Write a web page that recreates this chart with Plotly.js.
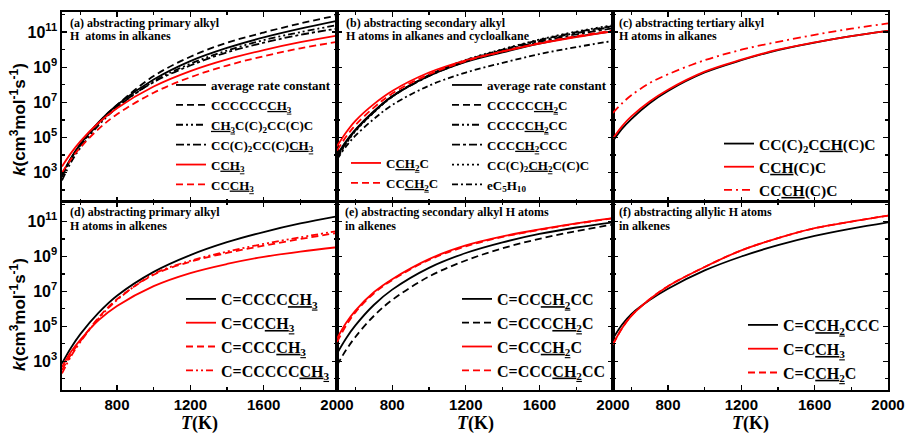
<!DOCTYPE html>
<html><head><meta charset="utf-8">
<script src="https://cdn.plot.ly/plotly-3.0.1.min.js"></script>
<style>html,body{margin:0;padding:0;background:#fff}#chart{width:906px;height:435px}</style>
</head><body><div id="chart"></div>
<script>
// Temperatures (K) at which values were read
const T = [500,550,600,700,800,1000,1200,1400,1600,1800,2000];
// log10 k values
// (a) primary alkyl H in alkanes
const a_avg   = [2.9,3.85,4.62,5.88,6.85,8.3,9.35,10.1,10.7,11.2,11.65];
const a_c7    = [2.75,3.8,4.6,5.85,6.85,8.5,9.6,10.4,10.98,11.5,11.95];
const a_ch3c2 = [2.55,3.6,4.4,5.7,6.7,8.2,9.2,9.95,10.55,11.0,11.4];
const a_cc2ch3= [2.8,3.8,4.55,5.8,6.75,8.15,9.1,9.85,10.4,10.85,11.2];
const a_cch3  = [3.35,4.12,4.78,5.84,6.67,7.9,8.78,9.45,9.98,10.43,10.8];
const a_ccch3 = [3.0,3.77,4.43,5.49,6.32,7.55,8.43,9.1,9.63,10.08,10.45];
// (b) secondary alkyl H in alkanes and cycloalkane
const b_avg   = [4.0,4.8,5.45,6.5,7.35,8.5,9.3,9.85,10.35,10.75,11.05];
const b_c6    = [3.85,4.7,5.4,6.45,7.35,8.55,9.4,10.0,10.55,11.0,11.35];
const b_c5    = [3.9,4.72,5.4,6.45,7.33,8.52,9.37,9.97,10.5,10.95,11.3];
const b_c4    = [3.95,4.75,5.42,6.45,7.32,8.5,9.33,9.93,10.45,10.88,11.22];
const b_cc2   = [3.8,4.65,5.35,6.42,7.32,8.55,9.42,10.03,10.58,11.03,11.4];
const b_ec5   = [3.75,4.5,5.1,6.05,6.85,7.95,8.7,9.25,9.75,10.15,10.5];
const b_cch2c = [4.5,5.3,5.95,6.9,7.65,8.7,9.4,9.9,10.35,10.72,11.05];
const b_ccch2c= [4.25,5.05,5.7,6.7,7.5,8.6,9.35,9.9,10.38,10.77,11.1];
// (c) tertiary alkyl H in alkanes
const c_cc2   = [4.8,5.5,6.05,6.95,7.65,8.7,9.4,9.98,10.4,10.77,11.07];
const c_cch   = [4.95,5.65,6.2,7.05,7.72,8.75,9.43,10.0,10.42,10.78,11.08];
const c_ccch  = [6.4,6.95,7.4,8.1,8.6,9.4,10.0,10.45,10.85,11.2,11.5];
// (d) primary alkyl H in alkenes
const d_c5    = [2.87,3.78,4.55,5.78,6.75,8.12,9.08,9.82,10.4,10.89,11.3];
const d_c2    = [2.67,3.55,4.22,5.35,6.16,7.3,8.05,8.57,8.98,9.28,9.53];
const d_c3    = [2.49,3.4,4.15,5.5,6.55,7.95,8.7,9.2,9.62,10.0,10.35];
const d_c6    = [2.3,3.3,4.1,5.45,6.5,8.0,8.75,9.28,9.72,10.1,10.45];
// (e) secondary alkyl H in alkenes
const e_ccch2cc = [3.44,4.32,5.05,6.22,7.1,8.35,9.2,9.81,10.29,10.66,10.96];
const e_cccch2c = [2.77,3.65,4.39,5.59,6.51,7.85,8.77,9.47,10.01,10.45,10.83];
const e_ccch2c  = [4.3,5.2,5.9,6.95,7.7,8.85,9.63,10.15,10.55,10.9,11.2];
const e_cccch2cc= [4.1,5.05,5.8,6.88,7.65,8.8,9.58,10.12,10.52,10.88,11.18];
// (f) allylic H in alkenes
const f_cch2ccc = [4.3,5.1,5.7,6.5,7.15,8.2,9.0,9.65,10.18,10.6,10.96];
const f_cch3    = [3.97,4.9,5.6,6.55,7.3,8.4,9.35,10.05,10.62,11.0,11.34];
const f_cch2c   = [3.97,4.9,5.6,6.55,7.3,8.4,9.35,10.05,10.62,11.0,11.34];

const xTicks = [800,1200,1600,2000];
const xMinor = [600,1000,1400,1800];
const yTickExp = [3,5,7,9,11];
const yMinorExp = [2,4,6,8,10,12];

const BLK='#000000', RED='#ff0000';
const DASH='7px,4px', DDOT='7px,3px,2px,3px,2px,3px', DDASH='8px,3px,3px,3px', DOT='2px,3px', DD2='6px,3px,2px,3px';

function tr(vals, name, color, dash, n, leg){
  return {x:T, y:vals.map(v=>Math.pow(10,v)), type:'scatter', mode:'lines', name:name,
    line:{color:color, dash:dash, width:1.8, shape:'spline', smoothing:1},
    xaxis:'x'+(n===1?'':n), yaxis:'y'+(n===1?'':n), legend:leg, hoverinfo:'skip'};
}
const U3='<u>CH<sub>3</sub></u>', U2='<u>CH<sub>2</sub></u>';
const data = [
  tr(a_avg,'average rate constant',BLK,'solid',1,'legend'),
  tr(a_c7,'CCCCCC'+U3,BLK,DASH,1,'legend'),
  tr(a_ch3c2,U3+'C(C)<sub>2</sub>CC(C)C',BLK,DDOT,1,'legend'),
  tr(a_cc2ch3,'CC(C)<sub>2</sub>CC(C)'+U3,BLK,DDASH,1,'legend'),
  tr(a_cch3,'C'+U3,RED,'solid',1,'legend'),
  tr(a_ccch3,'CC'+U3,RED,DASH,1,'legend'),

  tr(b_avg,'average rate constant',BLK,'solid',2,'legend2'),
  tr(b_c6,'CCCCC'+U2+'C',BLK,DASH,2,'legend2'),
  tr(b_c5,'CCCC'+U2+'CC',BLK,DDOT,2,'legend2'),
  tr(b_c4,'CCC'+U2+'CCC',BLK,DDASH,2,'legend2'),
  tr(b_cc2,'CC(C)<sub>2</sub>'+U2+'C(C)C',BLK,DOT,2,'legend2'),
  tr(b_ec5,'eC<sub>5</sub>H<sub>10</sub>',BLK,DD2,2,'legend2'),
  tr(b_cch2c,'C'+U2+'C',RED,'solid',2,'legend3'),
  tr(b_ccch2c,'CC'+U2+'C',RED,DASH,2,'legend3'),

  tr(c_cc2,'CC(C)<sub>2</sub>C<u>CH</u>(C)C',BLK,'solid',3,'legend4'),
  tr(c_cch,'C<u>CH</u>(C)C',RED,'solid',3,'legend4'),
  tr(c_ccch,'CC<u>CH</u>(C)C',RED,'8px,4px,2px,4px',3,'legend4'),

  tr(d_c5,'C=CCCC'+U3,BLK,'solid',4,'legend5'),
  tr(d_c2,'C=CC'+U3,RED,'solid',4,'legend5'),
  tr(d_c3,'C=CCC'+U3,RED,DASH,4,'legend5'),
  tr(d_c6,'C=CCCCC'+U3,RED,DDOT,4,'legend5'),

  tr(e_ccch2cc,'C=CC'+U2+'CC',BLK,'solid',5,'legend6'),
  tr(e_cccch2c,'C=CCC'+U2+'C',BLK,DASH,5,'legend6'),
  tr(e_ccch2c,'C=CC'+U2+'C',RED,'solid',5,'legend6'),
  tr(e_cccch2cc,'C=CCC'+U2+'CC',RED,DASH,5,'legend6'),

  tr(f_cch2ccc,'C=C'+U2+'CCC',BLK,'solid',6,'legend7'),
  tr(f_cch3,'C=C'+U3,RED,'solid',6,'legend7'),
  tr(f_cch2c,'C=C'+U2+'C',RED,DASH,6,'legend7'),
];

const W=906, H=435;
const px = v=>v/W, py = v=>1-v/H;
const colX = [[62,337],[337,613],[613,888]];
const rowY = [[12,201.5],[201.5,390]];
const SANS='Liberation Sans, Arial, sans-serif', SERIF='Liberation Serif, Times New Roman, serif';

const layout = {width:W, height:H, margin:{l:0,r:0,t:0,b:0}, paper_bgcolor:'#fff', plot_bgcolor:'rgba(0,0,0,0)',
  showlegend:true, annotations:[], font:{family:SANS,color:'#000'}};

for(let r=0;r<2;r++){
  for(let c=0;c<3;c++){
    const n=r*3+c+1, s=(n===1?'':n);
    layout['xaxis'+s] = {domain:[px(colX[c][0]),px(colX[c][1])], anchor:'y'+s, range:[500,2000],
      showline:true, linecolor:'#000', linewidth:1.6, mirror:'ticks', ticks:'inside', ticklen:5, tickwidth:1.4, tickcolor:'#000',
      tickmode:'array', tickvals:xTicks, ticktext:xTicks.map(String), showticklabels:r===1,
      tickfont:{family:SANS,size:15,weight:'bold',color:'#000'},
      minor:{tickvals:xMinor, ticks:'inside', ticklen:3, tickwidth:1.2, tickcolor:'#000'},
      showgrid:false, zeroline:false, fixedrange:true};
    layout['yaxis'+s] = {domain:[py(rowY[r][1]),py(rowY[r][0])], anchor:'x'+s, type:'log', range:[1.35,12.15],
      showline:true, linecolor:'#000', linewidth:1.6, mirror:'ticks', ticks:'inside', ticklen:5, tickwidth:1.4, tickcolor:'#000',
      tickmode:'array', tickvals:yTickExp.map(e=>Math.pow(10,e)), ticktext:yTickExp.map(e=>'10<sup>'+e+'</sup>'),
      showticklabels:c===0, tickfont:{family:SANS,size:16,weight:'bold',color:'#000'},
      minor:{tickvals:yMinorExp.map(e=>Math.pow(10,e)), ticks:'inside', ticklen:3, tickwidth:1.2, tickcolor:'#000'},
      showgrid:false, zeroline:false, fixedrange:true};
  }
}

function leg(x, y, size){
  return {x:px(x), y:py(y), xref:'paper', yref:'paper', xanchor:'left', yanchor:'top',
    bgcolor:'rgba(0,0,0,0)', borderwidth:0, itemwidth:30, traceorder:'normal',
    font:{family:SERIF, size:size, weight:'bold', color:'#000'}};
}
layout.legend  = leg(171, 70, 13);
layout.legend2 = leg(447, 70, 13);
layout.legend3 = leg(346, 148, 13);
layout.legend4 = leg(719, 127, 15.5);
layout.legend5 = leg(181, 282, 16);
layout.legend6 = leg(457, 282, 16);
layout.legend7 = leg(743, 308, 16);

const titles = [
  [68,23,'(a) abstracting primary alkyl'],[68,36,'H&nbsp; atoms in alkanes'],
  [344,23,'(b) abstracting secondary alkyl'],[344,36,'H atoms in alkanes and cycloalkane'],
  [617,23,'(c) abstracting tertiary alkyl'],[617,36,'H atoms in alkanes'],
  [68,212,'(d) abstracting primary alkyl'],[68,226,'H atoms in alkenes'],
  [343,212,'(e) abstracting secondary alkyl H atoms'],[343,226,'in alkenes'],
  [617,212,'(f) abstracting allylic H atoms'],[617,226,'in alkenes'],
];
titles.forEach(t=>layout.annotations.push({x:px(t[0]), y:py(t[1]), xref:'paper', yref:'paper', xanchor:'left', yanchor:'middle',
  text:t[2], showarrow:false, font:{family:SERIF,size:12,weight:'bold',color:'#000'}}));

const ytitle = '<i>k</i>(cm<sup>3</sup>mol<sup>-1</sup>s<sup>-1</sup>)';
[120,315].forEach(yc=>layout.annotations.push({x:px(18), y:py(yc), xref:'paper', yref:'paper', xanchor:'center', yanchor:'middle',
  text:ytitle, textangle:-90, showarrow:false, font:{family:SANS,size:17,weight:'bold',color:'#000'}}));
[199.5,475,750.5].forEach(xc=>layout.annotations.push({x:px(xc), y:py(423), xref:'paper', yref:'paper', xanchor:'center', yanchor:'middle',
  text:'<i>T</i>(K)', showarrow:false, font:{family:SERIF,size:18,weight:'bold',color:'#000'}}));

Plotly.newPlot('chart', data, layout, {staticPlot:true, displayModeBar:false});
</script></body></html>
